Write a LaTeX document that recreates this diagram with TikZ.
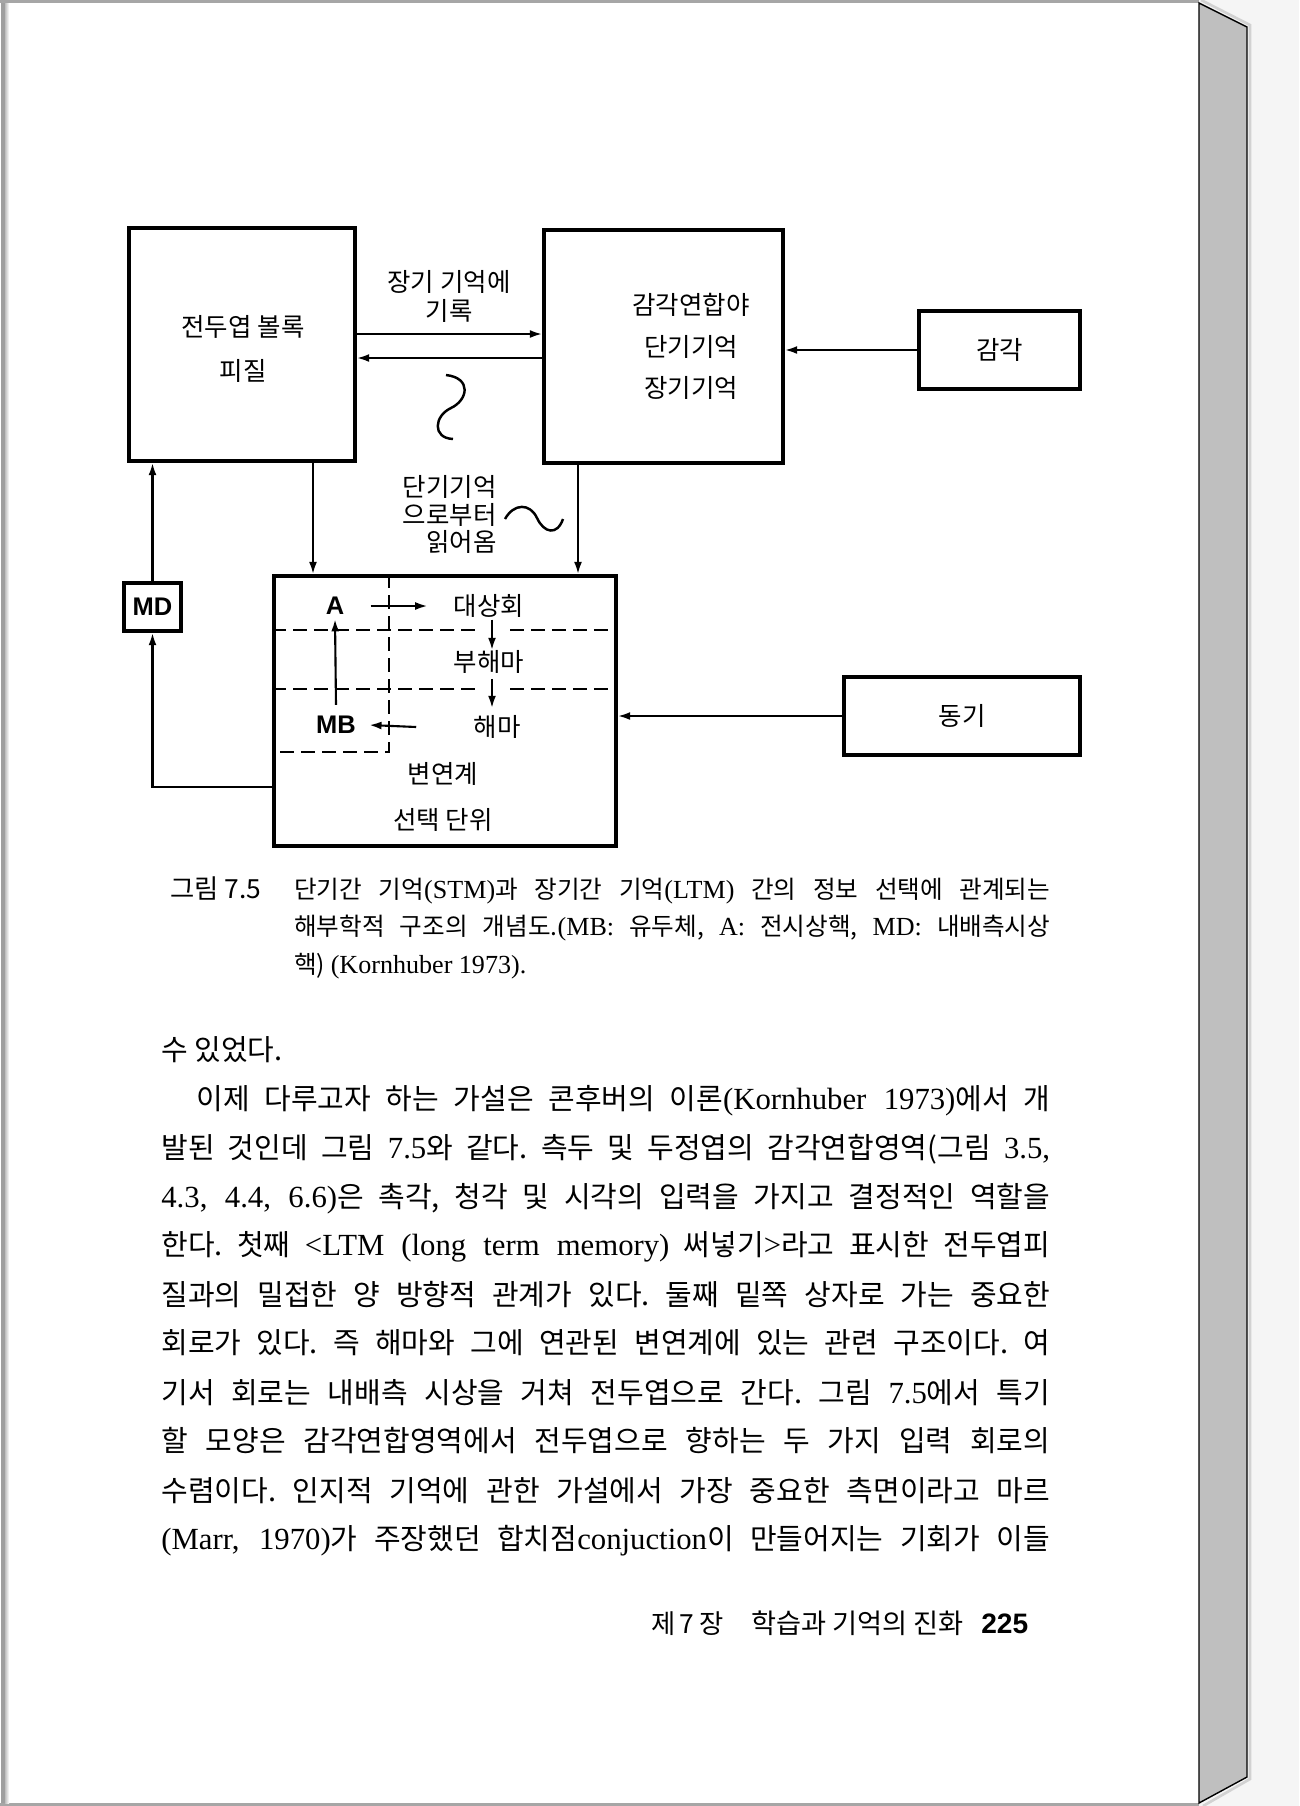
\documentclass[tikz,border=0pt]{standalone}
\usepackage{fontspec}
\setmainfont{Noto Sans CJK KR}
\newfontfamily\lat[Scale=1.06]{Liberation Serif}
\newfontfamily\sanslat{Liberation Sans}
\usetikzlibrary{arrows.meta}
\definecolor{deskgray}{HTML}{F5F5F5}
\definecolor{edgegray}{HTML}{BFBFBF}
\newcommand{\la}[1]{{\lat #1}}
\frenchspacing
\tikzset{
  block/.style={draw, line width=2.1pt, inner sep=0pt},
  lbl/.style={inner sep=0pt, font=\fontsize{14.5}{16}\selectfont},
  tag/.style={inner sep=0pt, font=\sanslat\bfseries\fontsize{14.5}{16}\selectfont},
  arr/.style={-{Latex[length=7pt,width=4.5pt]}, line width=1.2pt},
  dline/.style={line width=1.4pt, dash pattern=on 0.28cm off 0.14cm},
  wave/.style={line width=1.4pt},
  bodyline/.style={anchor=west, inner sep=0pt, text height=0.88em, text depth=0.12em, font=\fontsize{16.5}{18}\selectfont},
  capline/.style={anchor=west, inner sep=0pt, text height=0.88em, text depth=0.12em, font=\fontsize{14}{16}\selectfont},
}

\begin{document}
\begin{tikzpicture}[x=0.02cm, y=-0.02cm]
    \useasboundingbox (0,0) rectangle (1299,1806);
    % page and its edge
    \fill[deskgray] (0,0) rectangle (1299,1806);
    \fill[white] (0,0) rectangle (1199,1806);
    \fill[gray!70] (0,0) rectangle (1199,3);
    \fill[gray!70] (0,1803) rectangle (1199,1806);
    \fill[gray!75] (1,3) rectangle (5,1803);
    \shade[left color=gray!50, right color=white] (5,3) rectangle (9,1803);
    \draw[gray!35, line width=1.5pt] (1201,0) -- (1250,25) -- (1250,1779) -- (1203,1806);
    \filldraw[fill=edgegray, draw=black, line width=0.8pt] (1199,3) -- (1247,27) -- (1247,1777) -- (1199,1803) -- cycle;

    % boxes
    \node[block, minimum width=4.52cm, minimum height=4.66cm] (frontal) at (242,344.5) {};
    \node[lbl] (frontalA) at (243,327) {전두엽 볼록};
    \node[lbl] (frontalB) at (243,371) {피질};
    \node[block, minimum width=4.78cm, minimum height=4.66cm] (assoc) at (663.5,346.5) {};
    \node[lbl] (assocA) at (691,305) {감각연합야};
    \node[lbl] (assocB) at (691,347) {단기기억};
    \node[lbl] (assocC) at (691,388) {장기기억};
    \node[block, lbl, minimum width=3.22cm, minimum height=1.56cm] (sense) at (999.5,350) {감각};
    \node[block, tag, minimum width=1.14cm, minimum height=0.96cm] (md) at (152.5,607) {MD};
    \node[block, minimum width=6.84cm, minimum height=5.4cm] (limbic) at (445,711) {};
    \node[block, lbl, minimum width=4.72cm, minimum height=1.56cm] (motive) at (962,716) {동기};

    % labels between boxes
    \node[lbl] (writeA) at (449,282) {장기 기억에};
    \node[lbl] (writeB) at (449,311) {기록};
    \node[lbl, anchor=east] (readA) at (497,487) {단기기억};
    \node[lbl, anchor=east] (readB) at (497,515) {으로부터};
    \node[lbl, anchor=east] (readC) at (497,542) {읽어옴};

    % inside the lower box
    \node[tag] (ant) at (335,606) {A};
    \node[lbl] (cing) at (489,606) {대상회};
    \node[lbl] (parahip) at (489,662) {부해마};
    \node[lbl] (hip) at (497,727) {해마};
    \node[tag] (mb) at (336,725) {MB};
    \node[lbl] (limbA) at (443,774) {변연계};
    \node[lbl] (limbB) at (443,820) {선택 단위};

    \draw[dline] (limbic.west |- 0,630) -- (475,630);
    \draw[dline] (510,630) -- (limbic.east |- 0,630);
    \draw[dline] (limbic.west |- 0,689) -- (478,689);
    \draw[dline] (510,689) -- (limbic.east |- 0,689);
    \draw[dline] (limbic.north -| 389,0) -- (389,752) -- (limbic.west |- 0,752);

    % connectors
    \draw[arr] (frontal.east |- 0,334) -- (assoc.west |- 0,334);
    \draw[arr] (assoc.west |- 0,358) -- (frontal.east |- 0,358);
    \draw[arr] (sense.west) -- (assoc.east |- sense.west);
    \draw[arr] (frontal.south -| 313,0) -- (limbic.north -| 313,0);
    \draw[arr] (assoc.south -| 578,0) -- (limbic.north -| 578,0);
    \draw[arr] (md.north) -- (frontal.south -| md.north);
    \draw[arr] (limbic.west |- 0,787) -| (md.south);
    \draw[arr] (motive.west) -- (limbic.east |- motive.west);
    \draw[arr] ([xshift=0.52cm]ant.east) -- ([xshift=-0.52cm]cing.west);
    \draw[arr, shorten <=1pt] (cing.south -| 492,0) -- (parahip.north -| 492,0);
    \draw[arr, shorten <=0.1cm, shorten >=0.14cm] (parahip.south -| 492,0) -- (hip.north -| 492,0);
    \draw[arr] ([xshift=-1.14cm]hip.west) -- ([xshift=0.26cm]mb.east);
    \draw[arr] ([yshift=0.22cm]mb.north) -- ([yshift=-0.08cm]ant.south);

    % wavy marks
    \draw[wave] (446,375) .. controls (472,378) and (468,400) .. (451,408) .. controls (434,416) and (432,438) .. (453,439);
    \draw[wave] (505,519) .. controls (514,503) and (530,503) .. (537,518) .. controls (544,533) and (557,536) .. (563,519);

    % caption
    \node[capline, font=\fontsize{15}{16}\selectfont] (figno) at (170,892) {그림 7.5};
    \node[capline] (capA) at (294,892) {\makebox[15.12cm][s]{단기간 기억\la{(STM)}과 장기간 기억\la{(LTM)} 간의 정보 선택에 관계되는}};
    \node[capline] (capB) at (294,929) {\makebox[15.12cm][s]{해부학적 구조의 개념도.\la{(MB:} 유두체, \la{A:} 전시상핵, \la{MD:} 내배측시상}};
    \node[capline] (capC) at (294,967) {핵) \la{(Kornhuber 1973).}};

    % body text
    \node[bodyline] (lineA) at (161,1054) {수 있었다.};
    \node[bodyline] (lineB) at (196,1103) {\makebox[17.08cm][s]{이제 다루고자 하는 가설은 콘후버의 이론\la{(Kornhuber 1973)}에서 개}};
    \node[bodyline] (lineC) at (161,1152) {\makebox[17.78cm][s]{발된 것인데 그림 \la{7.5}와 같다. 측두 및 두정엽의 감각연합영역(그림 \la{3.5,}}};
    \node[bodyline] (lineD) at (161,1201) {\makebox[17.78cm][s]{\la{4.3, 4.4, 6.6)}은 촉각, 청각 및 시각의 입력을 가지고 결정적인 역할을}};
    \node[bodyline] (lineE) at (161,1249) {\makebox[17.78cm][s]{한다. 첫째 \la{<LTM (long term memory)} 써넣기\la{>}라고 표시한 전두엽피}};
    \node[bodyline] (lineF) at (161,1299) {\makebox[17.78cm][s]{질과의 밀접한 양 방향적 관계가 있다. 둘째 밑쪽 상자로 가는 중요한}};
    \node[bodyline] (lineG) at (161,1347) {\makebox[17.78cm][s]{회로가 있다. 즉 해마와 그에 연관된 변연계에 있는 관련 구조이다. 여}};
    \node[bodyline] (lineH) at (161,1397) {\makebox[17.78cm][s]{기서 회로는 내배측 시상을 거쳐 전두엽으로 간다. 그림 \la{7.5}에서 특기}};
    \node[bodyline] (lineI) at (161,1445) {\makebox[17.78cm][s]{할 모양은 감각연합영역에서 전두엽으로 향하는 두 가지 입력 회로의}};
    \node[bodyline] (lineJ) at (161,1495) {\makebox[17.78cm][s]{수렴이다. 인지적 기억에 관한 가설에서 가장 중요한 측면이라고 마르}};
    \node[bodyline] (lineK) at (161,1543) {\makebox[17.78cm][s]{\la{(Marr, 1970)}가 주장했던 합치점\la{conjuction}이 만들어지는 기회가 이들}};

    % running foot
    \node[capline, font=\fontsize{15}{16}\selectfont] (chap) at (651,1627) {제\,7\,장};
    \node[capline, font=\fontsize{15.5}{16}\selectfont] (folio) at (751,1627) {학습과 기억의 진화};
    \node[capline, font=\sanslat\bfseries\fontsize{16}{16}\selectfont] (pageno) at (981,1627) {225};
\end{tikzpicture}
\end{document}
